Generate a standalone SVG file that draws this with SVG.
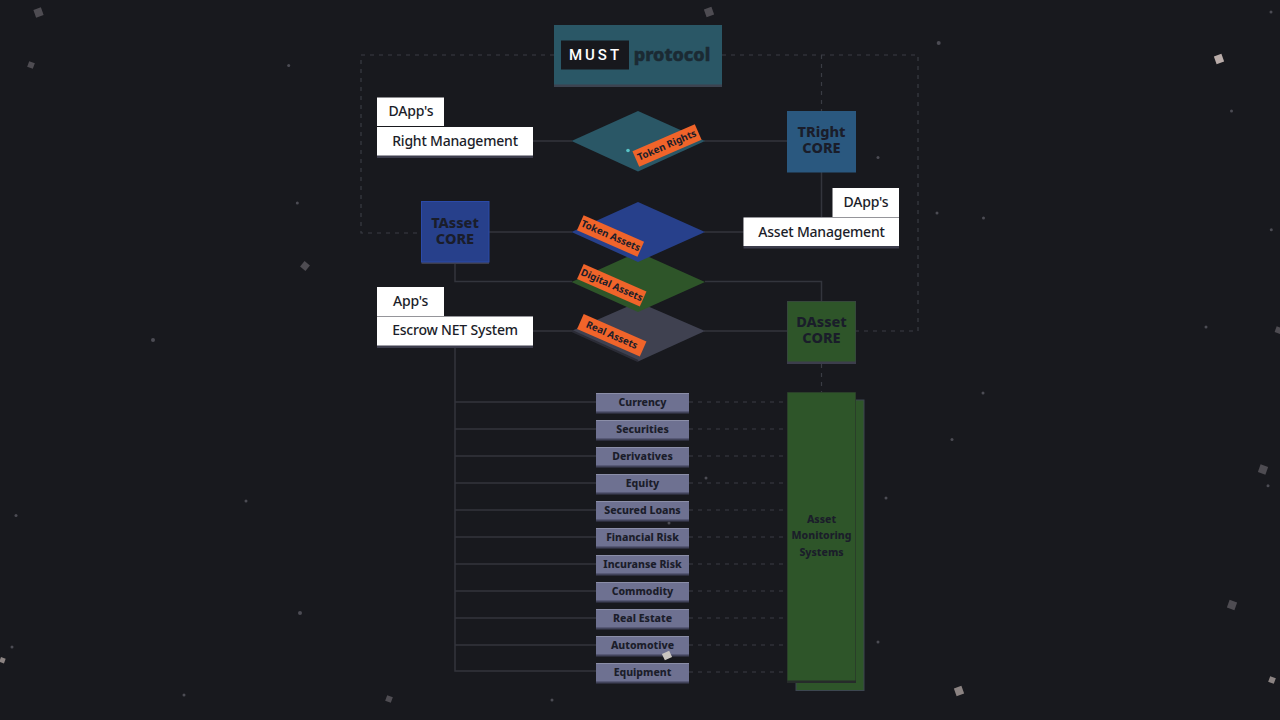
<svg xmlns="http://www.w3.org/2000/svg" width="1280" height="720" viewBox="0 0 1280 720">
<style>
text{font-family:"Noto Sans","Open Sans","Liberation Sans",sans-serif;text-anchor:middle;dominant-baseline:central}
.w{fill:#fff}
.wt{fill:#1b1d29;font-size:14px;font-weight:500;letter-spacing:-.2px}
.sh{fill:#3c3d4c}
.core{font-size:14.5px;font-weight:800;fill:#1a1d2a}
.pill{fill:#6e7191}
.pilltop{fill:#8b8ea8}
.pillsh{fill:#41435a}
.pillt{font-size:10.5px;font-weight:800;fill:#1b1d2a}
.or{fill:#f0642a}
.ort{font-size:9.8px;font-weight:700;fill:#1b1d29}
.s{stroke:#33353d;stroke-width:1.5;fill:none}
.d{stroke:#3a3c44;stroke-width:1.2;stroke-dasharray:4 5;fill:none}
.g{fill:#2e5529}
.dot{fill:#4c4c54}
.sq{fill:#4e4c52}
.lt{fill:#8b8382}
</style>
<rect width="1280" height="720" fill="#18191e"/>
<g id="specks">
<rect class="sq" x="34.5" y="8.5" width="8" height="8" transform="rotate(-20 38.5 12.5)"/>
<rect class="sq" x="28" y="62" width="6" height="6" transform="rotate(20 31 65)"/>
<rect class="sq" x="705" y="8" width="8" height="8" transform="rotate(-20 709 12)"/>
<rect x="1215" y="55" width="8" height="8" fill="#b9aca9" transform="rotate(-20 1219 59)"/>
<rect class="sq" x="301.5" y="262.5" width="7" height="7" transform="rotate(40 305 266)"/>
<rect class="lt" x="0" y="657.5" width="5" height="5" transform="rotate(20 2 660)"/>
<rect class="sq" x="1275.5" y="327" width="6" height="6" transform="rotate(20 1278 330)"/>
<rect class="sq" x="1259" y="465.5" width="8" height="8" transform="rotate(20 1263 469.5)"/>
<rect class="sq" x="1228" y="601" width="8" height="8" transform="rotate(20 1232 605)"/>
<rect class="lt" x="955" y="687" width="8" height="8" transform="rotate(-20 959 691)"/>
<rect class="lt" x="1269" y="677" width="6" height="6" transform="rotate(20 1272 680)"/>
<rect class="sq" x="386" y="696" width="6" height="6" transform="rotate(20 389 699)"/>
<circle class="dot" cx="288.7" cy="65.5" r="1.5"/>
<circle class="dot" cx="297.3" cy="203" r="1.5"/>
<circle class="dot" cx="153" cy="340" r="2"/>
<circle class="dot" cx="16" cy="515.5" r="1.5"/>
<circle class="dot" cx="246" cy="501" r="1.5"/>
<circle class="dot" cx="12" cy="647" r="1.5"/>
<circle class="dot" cx="300" cy="613" r="2"/>
<circle class="dot" cx="184" cy="695" r="1.5"/>
<circle class="dot" cx="938.7" cy="43" r="2"/>
<circle class="dot" cx="1271" cy="12" r="1.5"/>
<circle class="dot" cx="1231.5" cy="111" r="1.5"/>
<circle class="dot" cx="937" cy="213" r="1.5"/>
<circle class="dot" cx="983.5" cy="218" r="1.5"/>
<circle class="dot" cx="1271.3" cy="229.7" r="1.5"/>
<circle class="dot" cx="1206" cy="327" r="1.5"/>
<circle class="dot" cx="983" cy="393" r="1.5"/>
<circle class="dot" cx="952" cy="439.5" r="1.5"/>
<circle class="dot" cx="1268" cy="485.7" r="1.5"/>
<circle class="dot" cx="552" cy="700" r="1.5"/>
<circle class="dot" cx="878" cy="157.5" r="1.5"/>
<circle class="dot" cx="878" cy="642" r="1.5"/>
<circle class="dot" cx="886" cy="498" r="1.5"/>
<circle class="dot" cx="706" cy="478" r="1.5"/>
<circle class="dot" cx="669" cy="523" r="1.5"/>
</g>
<g id="connectors">
<path class="d" d="M554 55H361V233H421M722 55H918V331H856M821.5 55V111M821.5 364V392"/>
<path class="d" d="M689 402H787M689 429H787M689 456H787M689 483H787M689 510H787M689 537H787M689 564H787M689 591H787M689 618H787M689 645H787M689 672H787"/>
<path class="s" d="M533 141H572M704 141H787M821.5 172V217M489 232H572M704 232H744M455 262V281.5H572M705 281.5H821.5V301M533 331H572M704 331H787"/>
<path class="s" d="M455 345V671H596M455 402H596M455 429H596M455 456H596M455 483H596M455 510H596M455 537H596M455 564H596M455 591H596M455 618H596M455 645H596"/>
</g>
<g id="must-protocol">
<rect x="554" y="25" width="168" height="62" fill="#3c4350"/>
<rect x="554" y="25" width="168" height="59.5" fill="#2a5766"/>
<rect x="561" y="40.500" width="68" height="29" fill="#17181d"/>
<text x="595.500" y="54.500" fill="#fff" font-size="15" font-weight="500" letter-spacing="3" style="font-family:Roboto,sans-serif">MUST</text>
<text x="672" y="54" fill="#1b2a33" stroke="#1b2a33" stroke-width=".5" font-size="18" font-weight="800">protocol</text>
</g>
<g id="dapps-right">
<rect class="w" x="377" y="97.5" width="67" height="28.5"/>
<text class="wt" x="411" y="110.5">DApp's</text>
</g>
<g id="right-management">
<rect class="sh" x="377" y="127" width="156" height="31"/>
<rect class="w" x="377" y="127" width="156" height="28.5"/>
<text class="wt" x="455" y="140">Right Management</text>
</g>
<g id="token-rights">
<polygon points="571.5,141 638,111 705,141 638,171.5" fill="#2a5766"/>
<circle cx="628" cy="150.5" r="1.8" fill="#58c4c8"/>
<rect class="or" x="633" y="137" width="68" height="17" transform="rotate(-23.5 667 145.5)"/>
<text class="ort" x="667" y="145" transform="rotate(-23.5 667 145.5)">Token Rights</text>
</g>
<g id="tright-core">
<rect x="787" y="111" width="69" height="61.5" fill="#2a587f"/>
<text class="core" x="821.5" y="131">TRight</text>
<text class="core" x="821.5" y="146.5">CORE</text>
</g>
<g id="dapps-asset">
<rect class="w" x="832.5" y="188" width="66.5" height="29"/>
<text class="wt" x="866" y="201.5">DApp's</text>
</g>
<g id="asset-management">
<rect class="sh" x="743.5" y="217.5" width="155.5" height="31"/>
<rect class="w" x="743.5" y="217.5" width="155.5" height="28.5"/>
<text class="wt" x="821.5" y="231">Asset Management</text>
</g>
<g id="tasset-core">
<rect x="421.5" y="201.5" width="67.5" height="62.5" fill="#3c3d4c"/>
<rect x="421.5" y="201.5" width="67.5" height="60.5" fill="#27408b" stroke="#2b4aa8" stroke-width="1"/>
<text class="core" x="455" y="221.5">TAsset</text>
<text class="core" x="455" y="237.5">CORE</text>
</g>
<g id="real-assets">
<polygon points="571.5,331 638,302 705,331 638,361.5" fill="#3f4150"/>
<path d="M572 331L638 361" stroke="#2b2c36" stroke-width="2" fill="none"/>
<rect class="or" x="577.5" y="327" width="68.5" height="16.5" transform="rotate(23.7 611.7 335.3)"/>
<text class="ort" x="611.7" y="334.8" transform="rotate(23.7 611.7 335.3)">Real Assets</text>
</g>
<g id="digital-assets">
<polygon points="571.5,282 638,252 705,282 638,312" fill="#2e5529"/>
<rect class="or" x="577.5" y="277" width="68.5" height="16.5" transform="rotate(23.7 611.7 285.3)"/>
<text class="ort" x="611.7" y="284.8" transform="rotate(23.7 611.7 285.3)">Digital Assets</text>
</g>
<g id="token-assets">
<polygon points="571.5,232 638,202 705,232 638,262" fill="#27408b"/>
<rect class="or" x="577.5" y="227.7" width="66" height="16.5" transform="rotate(23.7 610.5 236)"/>
<text class="ort" x="610.5" y="235.5" transform="rotate(23.7 610.5 236)">Token Assets</text>
</g>
<g id="apps">
<rect class="w" x="377" y="287" width="67" height="29"/>
<text class="wt" x="410.5" y="300.5">App's</text>
</g>
<g id="escrow">
<rect class="sh" x="377" y="316.5" width="156" height="31.5"/>
<rect class="w" x="377" y="316.5" width="156" height="29"/>
<text class="wt" x="455" y="329.5">Escrow NET System</text>
</g>
<g id="dasset-core">
<rect x="787" y="301" width="69" height="63" fill="#3c3d4c"/>
<rect x="787.5" y="301.5" width="68" height="60" class="g"/>
<text class="core" x="821.5" y="320.5">DAsset</text>
<text class="core" x="821.5" y="336.5">CORE</text>
</g>
<g id="monitoring">
<rect x="796" y="400" width="68" height="290.5" class="g" stroke="#3c4650"/>
<rect x="787" y="392" width="69" height="291" fill="#262b2a"/>
<rect x="787.5" y="392.5" width="68" height="288" class="g"/>
<text class="pillt" x="821.5" y="518.5">Asset</text>
<text class="pillt" x="821.5" y="535">Monitoring</text>
<text class="pillt" x="821.5" y="551.5">Systems</text>
</g>
<g id="currency"><rect class="pillsh" x="596" y="393" width="93" height="20.5"/><rect class="pill" x="596" y="393" width="93" height="18.5"/><rect class="pilltop" x="596" y="393" width="93" height="1"/><text class="pillt" x="642.5" y="401.5">Currency</text></g>
<g id="securities"><rect class="pillsh" x="596" y="420" width="93" height="20.5"/><rect class="pill" x="596" y="420" width="93" height="18.5"/><rect class="pilltop" x="596" y="420" width="93" height="1"/><text class="pillt" x="642.5" y="428.5">Securities</text></g>
<g id="derivatives"><rect class="pillsh" x="596" y="447" width="93" height="20.5"/><rect class="pill" x="596" y="447" width="93" height="18.5"/><rect class="pilltop" x="596" y="447" width="93" height="1"/><text class="pillt" x="642.5" y="455.5">Derivatives</text></g>
<g id="equity"><rect class="pillsh" x="596" y="474" width="93" height="20.5"/><rect class="pill" x="596" y="474" width="93" height="18.5"/><rect class="pilltop" x="596" y="474" width="93" height="1"/><text class="pillt" x="642.5" y="482.5">Equity</text></g>
<g id="secured-loans"><rect class="pillsh" x="596" y="501" width="93" height="20.5"/><rect class="pill" x="596" y="501" width="93" height="18.5"/><rect class="pilltop" x="596" y="501" width="93" height="1"/><text class="pillt" x="642.5" y="509.5">Secured Loans</text></g>
<g id="financial-risk"><rect class="pillsh" x="596" y="528" width="93" height="20.5"/><rect class="pill" x="596" y="528" width="93" height="18.5"/><rect class="pilltop" x="596" y="528" width="93" height="1"/><text class="pillt" x="642.5" y="536.5">Financial Risk</text></g>
<g id="incuranse-risk"><rect class="pillsh" x="596" y="555" width="93" height="20.5"/><rect class="pill" x="596" y="555" width="93" height="18.5"/><rect class="pilltop" x="596" y="555" width="93" height="1"/><text class="pillt" x="642.5" y="563.5">Incuranse Risk</text></g>
<g id="commodity"><rect class="pillsh" x="596" y="582" width="93" height="20.5"/><rect class="pill" x="596" y="582" width="93" height="18.5"/><rect class="pilltop" x="596" y="582" width="93" height="1"/><text class="pillt" x="642.5" y="590.5">Commodity</text></g>
<g id="real-estate"><rect class="pillsh" x="596" y="609" width="93" height="20.5"/><rect class="pill" x="596" y="609" width="93" height="18.5"/><rect class="pilltop" x="596" y="609" width="93" height="1"/><text class="pillt" x="642.5" y="617.5">Real Estate</text></g>
<g id="automotive"><rect class="pillsh" x="596" y="636" width="93" height="20.5"/><rect class="pill" x="596" y="636" width="93" height="18.5"/><rect class="pilltop" x="596" y="636" width="93" height="1"/><text class="pillt" x="642.5" y="644.5">Automotive</text></g>
<g id="equipment"><rect class="pillsh" x="596" y="663" width="93" height="20.5"/><rect class="pill" x="596" y="663" width="93" height="18.5"/><rect class="pilltop" x="596" y="663" width="93" height="1"/><text class="pillt" x="642.5" y="671.5">Equipment</text></g>
<rect x="663" y="652" width="8" height="7" fill="#c9c5c0" transform="rotate(-25 667 655.5)"/>
</svg>
